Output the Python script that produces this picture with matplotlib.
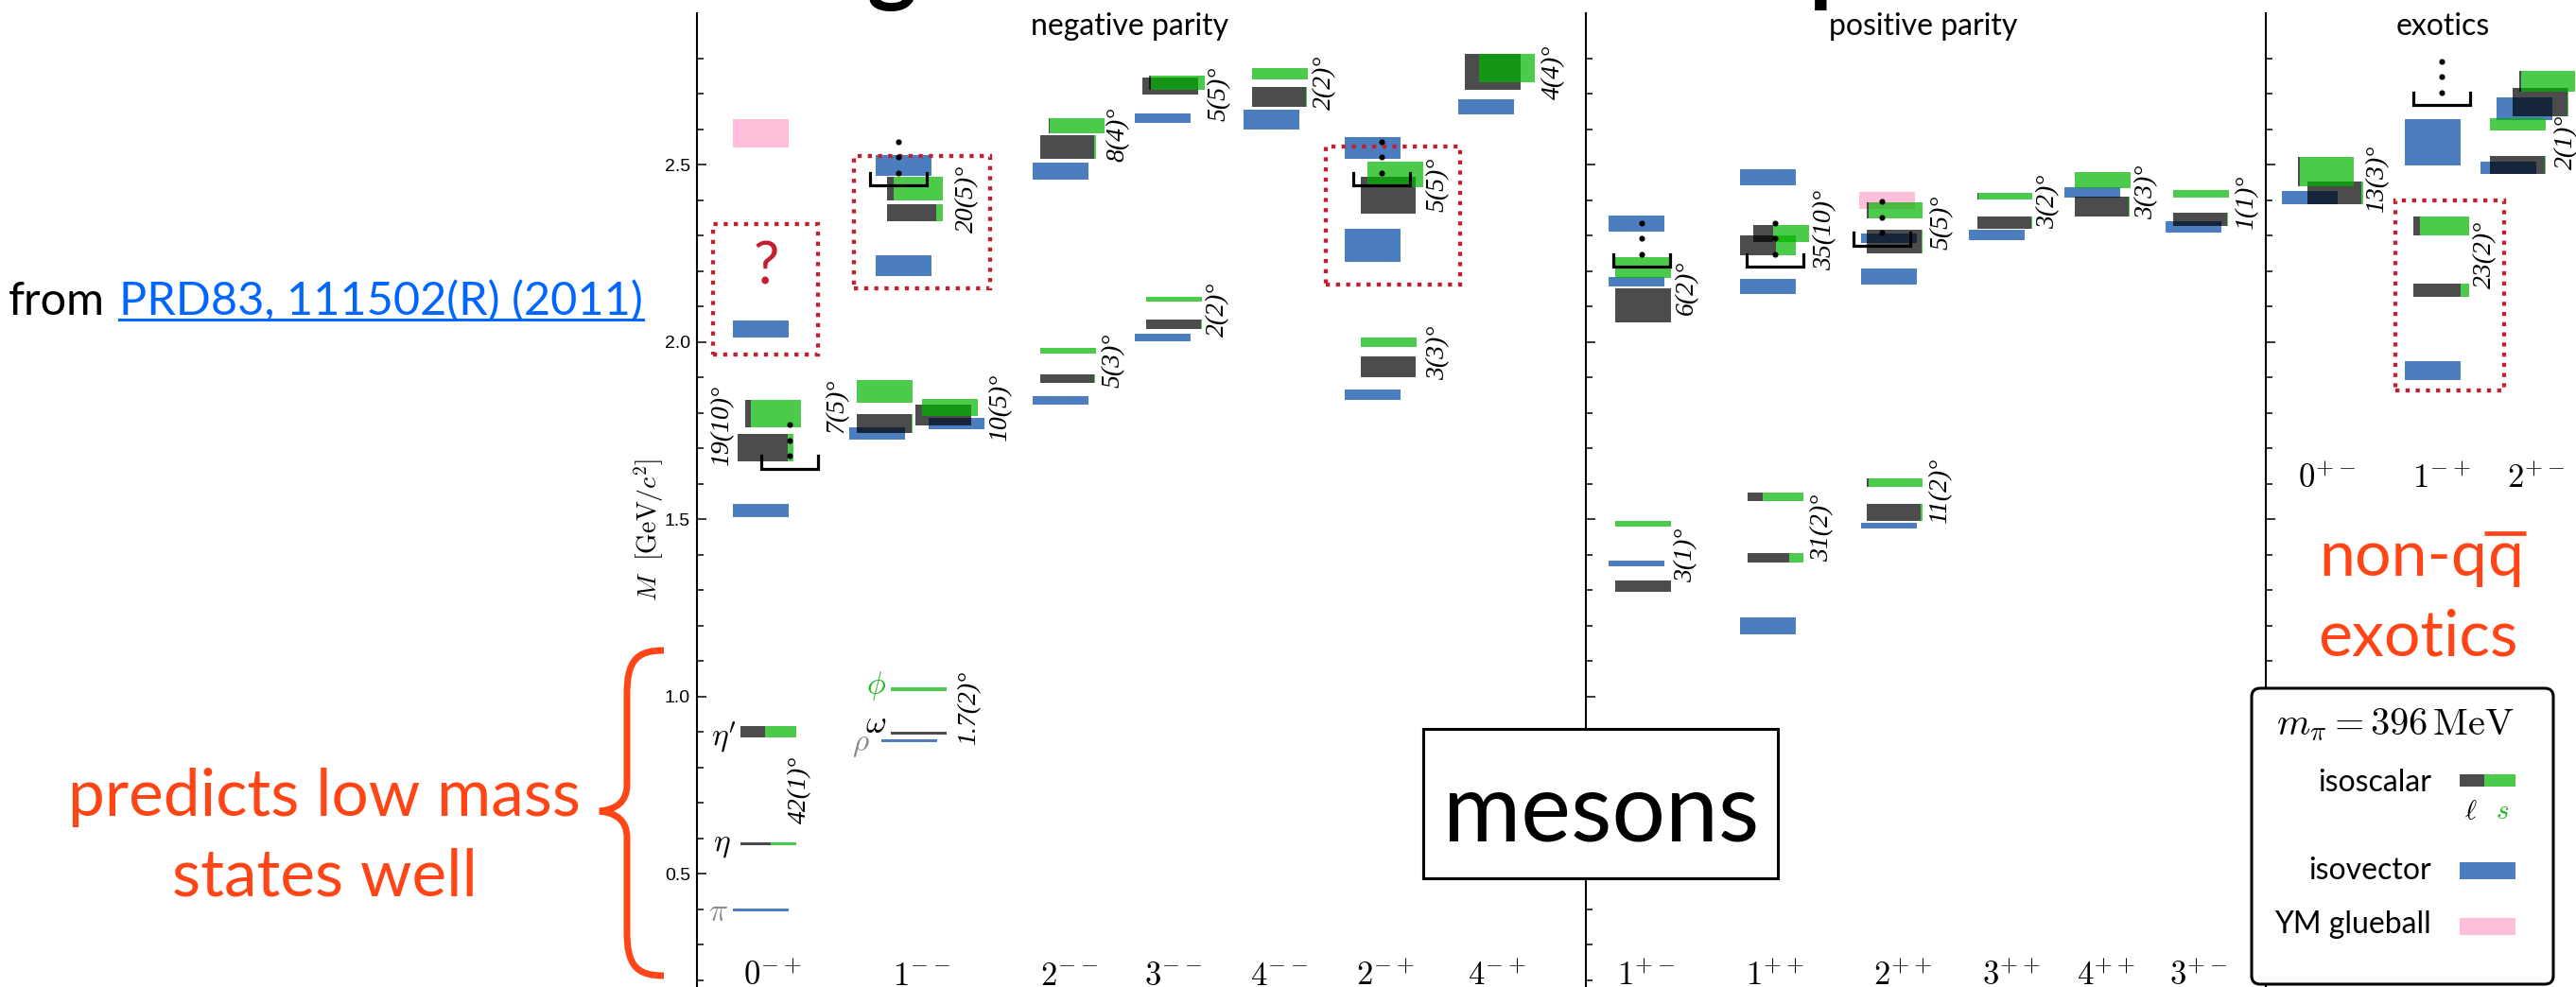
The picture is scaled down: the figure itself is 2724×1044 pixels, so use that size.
import matplotlib
matplotlib.use("Agg")
import numpy as np
import matplotlib.pyplot as plt
from matplotlib.patches import Rectangle, FancyBboxPatch, PathPatch
from matplotlib.path import Path
from matplotlib.lines import Line2D
from matplotlib.transforms import IdentityTransform
from matplotlib.ticker import FixedLocator, FormatStrFormatter

plt.rcParams["mathtext.fontset"] = "cm"
plt.rcParams["font.family"] = "Lato"

# ---------------- spectrum (GeV) ----------------
channels = ["0-+", "1--", "2--", "3--", "4--", "2-+", "4-+",
            "1+-", "1++", "2++", "3++", "4++", "3+-",
            "0+-", "1-+", "2+-"]

# isovector levels
iv_jpc = ["0-+", "0-+", "0-+",
          "1--", "1--", "1--", "1--", "1--",
          "2--", "2--", "3--", "3--", "4--",
          "2-+", "2-+", "2-+", "4-+",
          "1+-", "1+-", "1+-", "1++", "1++", "1++",
          "2++", "2++", "2++", "3++", "4++", "3+-",
          "0+-", "1-+", "1-+", "2+-", "2+-"]
iv_mass = [0.398, 1.525, 2.037,
           0.877, 1.742, 1.771, 2.215, 2.499,
           1.836, 2.483, 2.013, 2.632, 2.628,
           1.852, 2.273, 2.547, 2.664,
           1.376, 2.171, 2.335, 1.200, 2.157, 2.465,
           1.483, 2.186, 2.293, 2.302, 2.423, 2.326,
           2.408, 1.919, 2.564, 2.492, 2.659]
iv_err = [0.004, 0.019, 0.023,
          0.004, 0.017, 0.016, 0.029, 0.029,
          0.012, 0.024, 0.011, 0.014, 0.029,
          0.015, 0.046, 0.031, 0.022,
          0.009, 0.013, 0.023, 0.024, 0.021, 0.023,
          0.008, 0.023, 0.014, 0.014, 0.015, 0.016,
          0.019, 0.027, 0.065, 0.018, 0.032]

# isoscalar levels, with the light-quark share of each state
is_jpc = ["0-+"] * 4 + ["1--"] * 8 + ["2--"] * 4 + ["3--"] * 4 + ["4--"] * 2 \
    + ["2-+"] * 4 + ["4-+"] * 2 + ["1+-"] * 4 + ["1++"] * 4 + ["2++"] * 4 \
    + ["3++"] * 2 + ["4++"] * 2 + ["3+-"] * 2 + ["0+-"] * 2 + ["1-+"] * 2 + ["2+-"] * 4
is_mass = [0.584, 0.901, 1.703, 1.798,
           0.8975, 1.021, 1.770, 1.861, 1.795, 1.816, 2.365, 2.433,
           1.896, 1.976, 2.550, 2.610,
           2.051, 2.121, 2.722, 2.732,
           2.692, 2.756,
           1.930, 2.000, 2.415, 2.472,
           2.762, 2.773,
           1.312, 1.487, 2.104, 2.211,
           1.392, 1.564, 2.273, 2.306,
           1.521, 1.604, 2.284, 2.372,
           2.337, 2.412,
           2.382, 2.457,
           2.347, 2.419,
           2.421, 2.482,
           2.147, 2.328,
           2.500, 2.615, 2.677, 2.736]
is_err = [0.004, 0.017, 0.038, 0.039,
          0.0045, 0.006, 0.026, 0.033, 0.030, 0.023, 0.024, 0.034,
          0.012, 0.009, 0.034, 0.022,
          0.014, 0.007, 0.024, 0.021,
          0.027, 0.016,
          0.029, 0.014, 0.052, 0.036,
          0.051, 0.040,
          0.016, 0.008, 0.048, 0.030,
          0.014, 0.012, 0.029, 0.024,
          0.024, 0.012, 0.033, 0.022,
          0.017, 0.009,
          0.028, 0.022,
          0.018, 0.011,
          0.032, 0.041,
          0.019, 0.027,
          0.025, 0.017, 0.039, 0.029]
is_light = [0.54, 0.44, 0.89, 0.11,
            0.99, 0.0, 0.98, 0.0, 1.0, 0.0, 0.88, 0.12,
            0.98, 0.0, 0.97, 0.03,
            0.98, 0.0, 1.0, 0.03,
            0.98, 0.0,
            0.99, 0.0, 0.99, 0.0,
            1.0, 0.0,
            0.99, 0.0, 0.99, 0.0,
            0.74, 0.27, 0.64, 0.34,
            0.96, 0.03, 0.98, 0.03,
            0.98, 0.02,
            0.98, 0.0,
            0.98, 0.0,
            0.97, 0.04,
            0.85, 0.13,
            0.99, 0.0, 0.99, 0.03]

# Yang-Mills glueballs
gb_jpc = ["0-+", "2++"]
gb_mass = [2.588, 2.400]
gb_err = [0.040, 0.025]

# lowest multi-meson thresholds
thr_jpc = ["0-+", "1--", "2-+", "1+-", "1++", "2++", "1-+"]
thr_mass = [1.643, 2.442, 2.442, 2.212, 2.212, 2.272, 2.668]

# flavour mixing angles
ang_jpc = ["0-+", "0-+", "1--", "1--", "1--", "1--", "2--", "2--", "3--", "3--",
           "4--", "2-+", "2-+", "4-+", "1+-", "1+-", "1++", "1++", "2++", "2++",
           "3++", "4++", "3+-", "0+-", "1-+", "2+-"]
ang_text = ["42(1)", "19(10)", "1.7(2)", "7(5)", "10(5)", "20(5)", "8(4)", "5(3)",
            "5(5)", "2(2)", "2(2)", "5(5)", "3(3)", "4(4)", "6(2)", "3(1)",
            "35(10)", "31(2)", "5(5)", "11(2)", "3(2)", "3(3)", "1(1)", "13(3)",
            "23(2)", "2(1)"]

# ---------------- layout ----------------
W, H = 2724, 1044
M_TOP, M_BOT = 2.928, 0.1813
edges = [737, 1677, 2396, 2724]
panel_of = {ch: (0 if i < 7 else 1 if i < 13 else 2) for i, ch in enumerate(channels)}
col_x = {"0-+": 810, "1--": 962, "2--": 1129, "3--": 1237, "4--": 1349,
         "2-+": 1463, "4-+": 1582, "1+-": 1735, "1++": 1875, "2++": 2004,
         "3++": 2120, "4++": 2218, "3+-": 2322, "0+-": 2455, "1-+": 2577, "2+-": 2660}
lab_x = {"0-+": 817, "1--": 974, "2--": 1130, "3--": 1240, "4--": 1352,
         "2-+": 1465, "4-+": 1583, "1+-": 1740, "1++": 1877, "2++": 2012,
         "3++": 2127, "4++": 2227, "3+-": 2324, "0+-": 2460, "1-+": 2582, "2+-": 2681}
iv_dx = [-5.5, -5.5, -5.5,
         0, -34, 50, -6.5, -6.5,
         -8, -8, -7.5, -7.5, -4.5,
         -11.5, -11.5, -11.5, -10.5,
         -4.5, -4.5, -4.5, -5, -5, -5,
         -6.5, -6.5, -6.5, -9, -5.5, -2.5,
         -13, -4.5, -4.5, -8, 9]
is_dx = [3, 3, 0, 7.5,
         10, 10, -26, -26, 35.5, 43, 5.5, 5.5,
         0, 0, 0, 9,
         4.5, 4.5, 0, 7.5,
         4, 4,
         5, 5, 5, 12,
         -3, 12,
         3, 3, 3, 3,
         3, 3, -5, 9,
         0, 0, 0, 0,
         0, 0,
         5, 5,
         5, 5,
         14, 4.5,
         4, 4,
         2, 2, 26.5, 33.5]
gb_dx = [-5.5, -8.5]
thr_dx = [25, -12, -2.5, 1.5, 2.5, -14, 5]
ang_x = [846, 764, 1025, 885, 1058, 1023, 1182, 1177, 1289, 1288,
         1401, 1520, 1521, 1643, 1783, 1783, 1930, 1927, 2053, 2052,
         2166, 2270, 2376, 2514, 2628, 2714]
ang_m = [0.738, 1.763, 0.968, 1.82, 1.815, 2.403, 2.585, 1.949, 2.70, 2.093,
         2.733, 2.444, 1.971, 2.762, 2.155, 1.40, 2.315, 1.477, 2.338, 1.58,
         2.397, 2.423, 2.394, 2.461, 2.246, 2.565]
# dotted highlight boxes: channel, mass range, x range
boxes = [("0-+", 1.964, 2.332, 754, 865), ("1--", 2.152, 2.525, 903, 1047),
         ("2-+", 2.162, 2.551, 1402, 1544), ("1-+", 1.863, 2.399, 2533, 2648)]

BAR_W = 59
DARK, GREEN, BLUE, PINK = "#000000", "#00b400", "#0047a4", "#ffa5cd"
RED, ORANGE, LINK = "#c21f2f", "#ff4516", "#0066ff"
ALPHA = 0.7


def fxy(x, y):
    return x / W, 1 - y / H


fig = plt.figure(figsize=(W / 100, H / 100), dpi=100)

axes = []
minor = [m for m in np.round(np.arange(0.2, 2.85, 0.1), 1) if m not in (0.5, 1.0, 1.5, 2.0, 2.5)]
for i in range(3):
    l, r = edges[i], edges[i + 1]
    ax = fig.add_axes([l / W, 0, (r - l) / W, (H - 14) / H])
    ax.set_xlim(l, r)
    ax.set_ylim(M_BOT, M_TOP)
    ax.patch.set_visible(False)
    for s in ["top", "right", "bottom"]:
        ax.spines[s].set_visible(False)
    ax.spines["left"].set_linewidth(1.5)
    ax.set_xticks([])
    ax.yaxis.set_major_locator(FixedLocator([0.5, 1.0, 1.5, 2.0, 2.5]))
    ax.yaxis.set_minor_locator(FixedLocator(minor))
    ax.tick_params(axis="y", which="both", direction="in", width=1.1)
    ax.tick_params(axis="y", which="major", length=7.5, pad=5)
    ax.tick_params(axis="y", which="minor", length=4.8)
    if i == 0:
        ax.yaxis.set_major_formatter(FormatStrFormatter("%.1f"))
        ax.tick_params(axis="y", labelsize=14, labelfontfamily="Liberation Sans")
    else:
        ax.tick_params(axis="y", labelleft=False)
    axes.append(ax)


def panel(ch):
    return axes[panel_of[ch]]


# glueballs, isovectors, then isoscalar light parts and strange parts
for ch, m, e, dx in zip(gb_jpc, gb_mass, gb_err, gb_dx):
    panel(ch).bar(col_x[ch] + dx, 2 * e, BAR_W, m - e, color=PINK, alpha=ALPHA, lw=0)
for ch, m, e, dx in zip(iv_jpc, iv_mass, iv_err, iv_dx):
    panel(ch).bar(col_x[ch] + dx, 2 * e, BAR_W, m - e, color=BLUE, alpha=ALPHA, lw=0)
for ch, m, e, f, dx in zip(is_jpc, is_mass, is_err, is_light, is_dx):
    x0 = col_x[ch] + dx - BAR_W / 2
    if f > 0:
        panel(ch).bar(x0, 2 * e, BAR_W * f, m - e, align="edge", color=DARK, alpha=ALPHA, lw=0)
for ch, m, e, f, dx in zip(is_jpc, is_mass, is_err, is_light, is_dx):
    x0 = col_x[ch] + dx - BAR_W / 2
    if f < 1:
        panel(ch).bar(x0 + BAR_W * f, 2 * e, BAR_W * (1 - f), m - e, align="edge",
                      color=GREEN, alpha=ALPHA, lw=0)

# thresholds: bracket with dots above
for ch, m, dx in zip(thr_jpc, thr_mass, thr_dx):
    ax = panel(ch)
    xc = col_x[ch] + dx
    ax.plot([xc - 30, xc - 30, xc + 30, xc + 30], [m + 0.036, m, m, m + 0.036],
            color="black", lw=2.3, solid_joinstyle="miter", zorder=5)
    ax.plot([xc] * 3, [m + 0.036, m + 0.08, m + 0.124], "o", color="black", ms=3.4, zorder=5)

for ch, m0, m1, x0, x1 in boxes:
    panel(ch).add_patch(Rectangle((x0, m0), x1 - x0, m1 - m0, fill=False, ec=RED, lw=3.1,
                                  ls=(0, (1, 1.5)), zorder=4))

for ch, t, x, m in zip(ang_jpc, ang_text, ang_x, ang_m):
    panel(ch).text(x, m, t + "\u00b0", rotation=90, ha="center", va="center", fontsize=20,
                   family="Liberation Serif", style="italic", clip_on=False)

# J^PC labels
for ch in channels:
    yb = 1.5893 if panel_of[ch] == 2 else 0.1867
    panel(ch).text(lab_x[ch], yb, "$%s^{%s}$" % (ch[0], ch[1:]), ha="center", va="baseline",
                   fontsize=25, clip_on=False)

# ground-state names
a0 = axes[0]
a0.text(765, 0.885, r"$\eta'$", ha="center", va="center", fontsize=24)
a0.text(763, 0.580, r"$\eta$", ha="center", va="center", fontsize=24)
a0.text(759, 0.393, r"$\pi$", ha="center", va="center", fontsize=24, color="#8c8c8c")
a0.text(927, 1.031, r"$\phi$", ha="center", va="center", fontsize=24, color="#22b422")
a0.text(926, 0.922, r"$\omega$", ha="center", va="center", fontsize=24)
a0.text(910, 0.864, r"$\rho$", ha="center", va="center", fontsize=24, color="#8c8c8c")
a0.text(810, 2.21, "?", ha="center", va="center", fontsize=44, color=RED)

fig.text(*fxy(686, 560), r"$M\ \ [\mathrm{GeV}/c^2]$", rotation=90, ha="center", va="center",
         fontsize=20)

# section headings and the clipped slide title
fig.text(*fxy(1195, 37), "negative parity", ha="center", va="baseline", fontsize=23)
fig.text(*fxy(2034, 37), "positive parity", ha="center", va="baseline", fontsize=23)
fig.text(*fxy(2583, 37), "exotics", ha="center", va="baseline", fontsize=23)
fig.text(*fxy(943, -6), "g", ha="center", va="baseline", fontsize=72, fontweight="bold")
fig.text(*fxy(1913, -6), "p", ha="left", va="baseline", fontsize=72, fontweight="bold")

# "mesons" tag
fig.add_artist(Rectangle((1505, H - 929), 375, 158, fc="white", ec="black", lw=2.2,
                         transform=IdentityTransform()))
fig.text(*fxy(1693, 889), "mesons", ha="center", va="baseline", fontsize=72)

# key
fig.add_artist(FancyBboxPatch((2381, H - 1041), 319, 313,
                              boxstyle="round,pad=0,rounding_size=9",
                              fc="white", ec="black", lw=2.2, transform=IdentityTransform()))
fig.text(*fxy(2533, 777), r"$m_\pi = 396\,\mathrm{MeV}$", ha="center", va="baseline", fontsize=29)
for name, yb in [("isoscalar", 837), ("isovector", 930), ("YM glueball", 987)]:
    fig.text(*fxy(2571, yb), name, ha="right", va="baseline", fontsize=23)
for x0, w, y0, h, c in [(2601, 26, 832, 13, DARK), (2627, 33, 832, 13, GREEN),
                        (2601, 59, 930, 18, BLUE), (2601, 59, 989, 18, PINK)]:
    fig.add_artist(Rectangle((x0, H - y0), w, h, fc=c, alpha=ALPHA, lw=0,
                             transform=IdentityTransform()))
fig.text(*fxy(2613, 866), r"$\ell$", ha="center", va="baseline", fontsize=21)
fig.text(*fxy(2646, 866), r"$s$", ha="center", va="baseline", fontsize=21, color="#22b422")

# left-hand notes
t_from = fig.text(*fxy(9, 333), "from", ha="left", va="baseline", fontsize=35)
t_link = fig.text(*fxy(126, 333), "PRD83, 111502(R) (2011)", ha="left", va="baseline",
                  fontsize=35, color=LINK)
fig.text(*fxy(343, 863), "predicts low mass", ha="center", va="baseline", fontsize=50, color=ORANGE)
fig.text(*fxy(343, 948), "states well", ha="center", va="baseline", fontsize=50, color=ORANGE)

t_non = fig.text(*fxy(2500, 609), "non-q", ha="right", va="baseline", fontsize=49, color=ORANGE)
t_q = fig.text(*fxy(2500, 609), "q", ha="left", va="baseline", fontsize=49, color=ORANGE)
fig.text(*fxy(2557, 694), "exotics", ha="center", va="baseline", fontsize=49, color=ORANGE)

brace = Path([(702, 688), (672, 688), (663, 700), (663, 735),
              (663, 830),
              (663, 848), (652, 856), (634, 858),
              (652, 860), (663, 868), (663, 886),
              (663, 985),
              (663, 1020), (672, 1032), (702, 1032)],
             [Path.MOVETO, Path.CURVE4, Path.CURVE4, Path.CURVE4,
              Path.LINETO,
              Path.CURVE4, Path.CURVE4, Path.CURVE4,
              Path.CURVE4, Path.CURVE4, Path.CURVE4,
              Path.LINETO,
              Path.CURVE4, Path.CURVE4, Path.CURVE4])
brace = Path([(x, H - y) for x, y in brace.vertices], brace.codes)
fig.add_artist(PathPatch(brace, fc="none", ec=ORANGE, lw=5, capstyle="butt",
                         transform=IdentityTransform()))

# underline the reference and put the bar over the antiquark
fig.canvas.draw()
r = fig.canvas.get_renderer()
bb = t_link.get_window_extent(r)
fig.add_artist(Line2D([bb.x0, bb.x1], [H - 338, H - 338], color=LINK, lw=2.2,
                      transform=IdentityTransform()))
w1 = t_non.get_window_extent(r).width
w2 = t_q.get_window_extent(r).width
xs = 2560 - (w1 + w2) / 2 + w1
t_non.set_x(xs / W)
t_q.set_x(xs / W)
fig.canvas.draw()
bq = t_q.get_window_extent(r)
fig.add_artist(Line2D([bq.x0 - 3, bq.x1 + 3], [H - 564, H - 564], color=ORANGE, lw=3.4,
                      solid_capstyle="butt", transform=IdentityTransform()))

fig.savefig("out.png", dpi=100)
